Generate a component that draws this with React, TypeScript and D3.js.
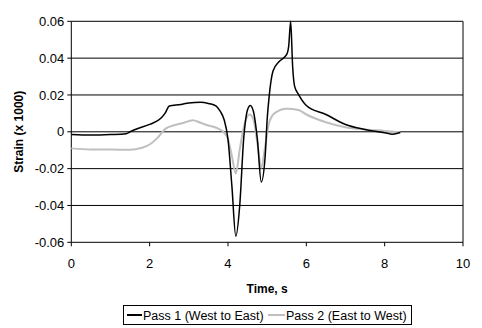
import React from 'react'
import * as d3 from 'd3'

const W = 482
const H = 328

// time (s) and strain (x1000)
const pass1T = [0, 0.5, 1, 1.4, 1.5, 1.7, 2.0, 2.3, 2.4, 2.5, 2.8, 3.0, 3.3, 3.5, 3.7, 3.8, 3.9, 4.0, 4.1, 4.2, 4.3, 4.4, 4.5, 4.57, 4.65, 4.75, 4.85, 4.95, 5.0, 5.05, 5.15, 5.3, 5.5, 5.55, 5.6, 5.65, 5.7, 5.8, 6.0, 6.5, 7.0, 7.5, 8.0, 8.2, 8.4]
const pass1V = [-0.0015, -0.0018, -0.0015, -0.001, 0, 0.0018, 0.004, 0.0076, 0.0103, 0.014, 0.0148, 0.0157, 0.016, 0.0154, 0.014, 0.0112, 0.0067, -0.004, -0.0295, -0.0567, -0.04, -0.004, 0.012, 0.0143, 0.011, -0.004, -0.0273, -0.013, 0.0067, 0.019, 0.033, 0.038, 0.042, 0.0465, 0.06, 0.0357, 0.0248, 0.0203, 0.0143, 0.0094, 0.004, 0.0013, -0.0005, -0.0013, -0.0004]

const pass2T = [0, 0.5, 1, 1.5, 1.8, 2.0, 2.2, 2.4, 2.6, 2.8, 3.0, 3.1, 3.3, 3.5, 3.7, 3.9, 4.0, 4.1, 4.2, 4.3, 4.4, 4.55, 4.65, 4.75, 4.85, 4.95, 5.05, 5.2, 5.5, 5.8, 6.0, 6.5, 7.0, 7.5, 8.0, 8.4]
const pass2V = [-0.009, -0.0096, -0.0096, -0.0098, -0.0087, -0.0069, -0.0033, 0.0016, 0.0034, 0.0045, 0.0058, 0.0063, 0.0049, 0.0034, 0.0022, -0.0005, -0.004, -0.0132, -0.0226, -0.0096, 0.0022, 0.0094, 0.0067, -0.006, -0.0195, -0.0078, 0.0049, 0.0103, 0.0125, 0.0118, 0.0094, 0.0052, 0.0025, 0.0013, 0.0005, -0.0002]

const xTicks = [0, 2, 4, 6, 8, 10]
const yTicks = [-0.06, -0.04, -0.02, 0, 0.02, 0.04, 0.06]

const seriesNames = ['Pass 1 (West to East)', 'Pass 2 (East to West)']
const seriesColors = ['#000000', '#bfbfbf']

const font = 'Arial, "Liberation Sans", sans-serif'

export default function App() {
  const left = 71.3
  const right = 463
  const top = 21.3
  const bottom = 242.3

  const x = d3.scaleLinear().domain([0, 10]).range([left, right])
  const y = d3.scaleLinear().domain([-0.06, 0.06]).range([bottom, top])

  const line = d3
    .line<[number, number]>()
    .x((d) => x(d[0]))
    .y((d) => y(d[1]))
    .curve(d3.curveMonotoneX)

  const p1 = pass1T.map((t, i) => [t, pass1V[i]] as [number, number])
  const p2 = pass2T.map((t, i) => [t, pass2V[i]] as [number, number])

  const fmt = (v: number) => (v === 0 ? '0' : v.toFixed(2))

  return (
    <>
      <style>{`body{margin:0}`}</style>
      <svg width={W} height={H} style={{ display: 'block', background: '#fff' }} fontFamily={font}>
        {/* grid */}
        {yTicks.map((v) => (
          <line key={'g' + v} x1={left} x2={right} y1={y(v)} y2={y(v)} stroke="#000" strokeWidth={1} />
        ))}
        <line x1={right} x2={right} y1={top} y2={bottom} stroke="#000" strokeWidth={1} />
        {/* axes */}
        <line x1={left} x2={left} y1={top} y2={bottom} stroke="#000" strokeWidth={1} />
        {yTicks.map((v) => (
          <g key={'y' + v}>
            <line x1={left - 4} x2={left} y1={y(v)} y2={y(v)} stroke="#000" />
            <text x={left - 7} y={y(v)} dy="0.35em" textAnchor="end" fontSize={13}>
              {fmt(v)}
            </text>
          </g>
        ))}
        {xTicks.map((t) => (
          <g key={'x' + t}>
            <line x1={x(t)} x2={x(t)} y1={bottom} y2={bottom + 4} stroke="#000" />
            <text x={x(t)} y={bottom + 26} textAnchor="middle" fontSize={13}>
              {t}
            </text>
          </g>
        ))}

        {/* series */}
        <path d={line(p2) || ''} fill="none" stroke={seriesColors[1]} strokeWidth={2} />
        <path d={line(p1) || ''} fill="none" stroke={seriesColors[0]} strokeWidth={1.5} />

        {/* titles */}
        <text x={(left + right) / 2} y={293} textAnchor="middle" fontSize={12} fontWeight="bold">
          Time, s
        </text>
        <text
          transform={`translate(23,${(top + bottom) / 2}) rotate(-90)`}
          textAnchor="middle"
          fontSize={12}
          fontWeight="bold"
        >
          Strain (x 1000)
        </text>

        {/* legend */}
        <rect x={123.5} y={305.5} width={288} height={19} fill="#fff" stroke="#000" />
        <line x1={127} x2={142} y1={315} y2={315} stroke={seriesColors[0]} strokeWidth={2} />
        <text x={143} y={319.5} fontSize={12.5}>
          {seriesNames[0]}
        </text>
        <line x1={268} x2={285} y1={315} y2={315} stroke={seriesColors[1]} strokeWidth={2} />
        <text x={286} y={319.5} fontSize={12.5}>
          {seriesNames[1]}
        </text>
      </svg>
    </>
  )
}
